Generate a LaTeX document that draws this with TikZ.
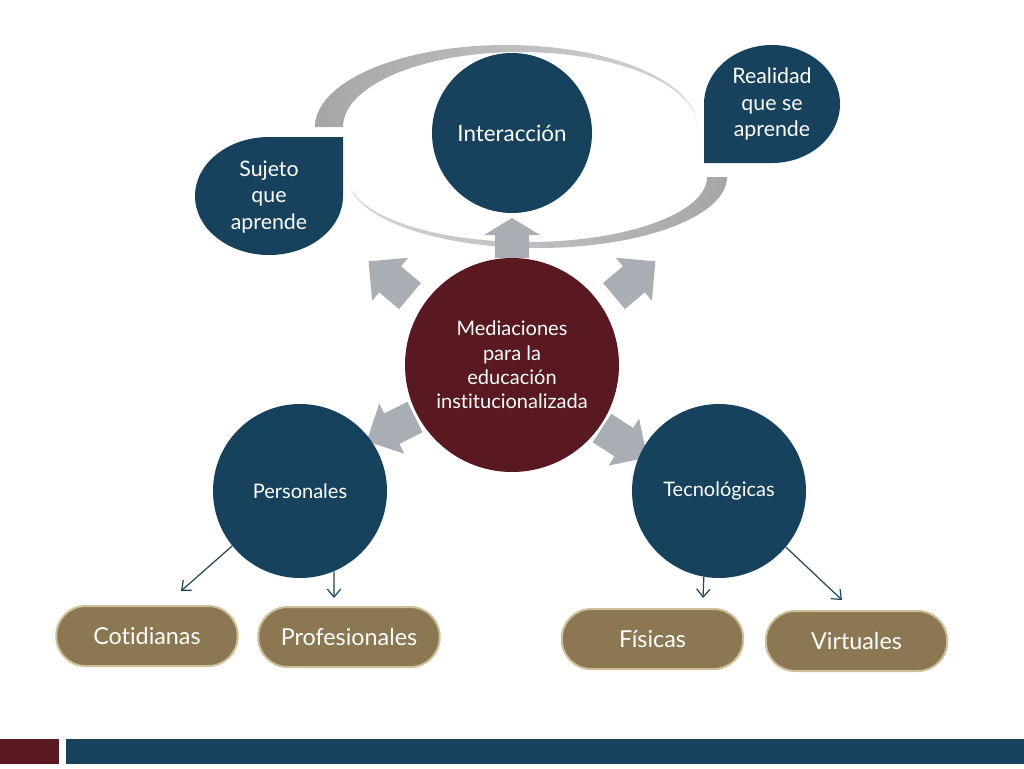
\documentclass[tikz,border=0pt]{standalone}
\usepackage{fontspec}
\setmainfont{Lato}[Ligatures=NoCommon]
\usetikzlibrary{arrows.meta}
\definecolor{dblue}{HTML}{17425E}
\definecolor{dred}{HTML}{5A1921}
\definecolor{agray}{HTML}{A9AEB5}
\definecolor{pillfill}{HTML}{8B7853}
\definecolor{pillbord}{HTML}{CDBF98}
\definecolor{lblue}{HTML}{1B4560}
\definecolor{ringdark}{HTML}{A6A6A6}
\definecolor{ringlight}{HTML}{D4D4D4}
\tikzset{
  bigcirc/.style={circle, inner sep=0pt, text=white, align=center},
  tdtext/.style={text=white, align=center, inner sep=0pt, font=\fontsize{16}{20}\selectfont},
  pillbox/.style={draw=pillbord, line width=1.5pt, fill=pillfill, rounded corners=22pt,
    minimum width=136pt, minimum height=45pt, text=white, inner sep=0pt, font=\fontsize{17.5}{20}\selectfont},
  thinarrow/.style={draw=lblue, line width=0.9pt, -{Straight Barb[length=6pt,width=10pt]}},
  blockarr/.pic={\fill[agray] (0,-17) -- (26,-17) -- (26,-28) -- (54,0) -- (26,28) -- (26,17) -- (0,17) -- cycle;}
}
\begin{document}
\begin{tikzpicture}[x=0.75pt,y=-0.75pt]
\fill[white] (0,0) rectangle (1024,768);
\useasboundingbox (0,0) rectangle (1024,768);
% ring
\shade[left color=ringdark, right color=ringlight]
  (315,127) arc[start angle=180,end angle=360,x radius=191,y radius=82]
  arc[start angle=0,end angle=-180,x radius=177,y radius=75] -- cycle;
\shade[left color=ringlight, right color=ringdark]
  (727,177) arc[start angle=0,end angle=180,x radius=189.5,y radius=71]
  arc[start angle=180,end angle=0,x radius=179.5,y radius=65] -- cycle;
% teardrops
\fill[dblue] (343,196) arc[start angle=0,end angle=270,x radius=74,y radius=59] -- (343,137) -- cycle;
\node[tdtext] (suj) at (269,197) {Sujeto\\que\\aprende};
\fill[dblue] (704,104) arc[start angle=180,end angle=450,x radius=68,y radius=59] -- (704,163) -- cycle;
\node[tdtext] (real) at (772,104) {Realidad\\que se\\aprende};
% block arrows
\fill[agray] (495,258) -- (495,235) -- (484,235) -- (512,218) -- (540,235) -- (529,235) -- (529,258) -- cycle;
\pic[rotate=140] at (410,296) {blockarr};
\pic[rotate=40] at (614,296) {blockarr};
\pic[rotate=206.6] at (415,417) {blockarr};
\pic[rotate=-33] at (602,428) {blockarr};
% circles
\node[bigcirc, fill=dblue, minimum size=120pt, font=\fontsize{16.8}{20}\selectfont] (int) at (512,133) {Interacción};
\node[bigcirc, fill=dred, minimum size=160.5pt, font=\fontsize{15}{18.3}\selectfont] (med) at (512,365) {Mediaciones\\para la\\educación\\institucionalizada};
\node[bigcirc, fill=dblue, minimum size=130.5pt, font=\fontsize{15}{18}\selectfont] (pers) at (300,491) {Personales};
\node[bigcirc, fill=dblue, minimum size=130.5pt, font=\fontsize{15}{18}\selectfont] (tec) at (719,491) {Tecnológicas};
% pills
\node[pillbox] (cot) at (147,636) {Cotidianas};
\node[pillbox] (prof) at (349,637) {Profesionales};
\node[pillbox] (fis) at (652.5,639) {Físicas};
\node[pillbox] (virt) at (856.5,641) {Virtuales};
% thin arrows
\coordinate (eCot) at (181,591);
\coordinate (eProf) at (334,598);
\coordinate (eFis) at (703,598);
\coordinate (eVirt) at (842,600);
\draw[thinarrow] (pers.-141.5) -- (eCot);
\draw[thinarrow] (pers.-67) -- (eProf);
\draw[thinarrow] (tec.-100.7) -- (eFis);
\draw[thinarrow] (tec.-40.3) -- (eVirt);
% bottom bars
\fill[dred] (0,739) rectangle (59,764);
\fill[dblue] (66,739) rectangle (1024,764);
\end{tikzpicture}
\end{document}
